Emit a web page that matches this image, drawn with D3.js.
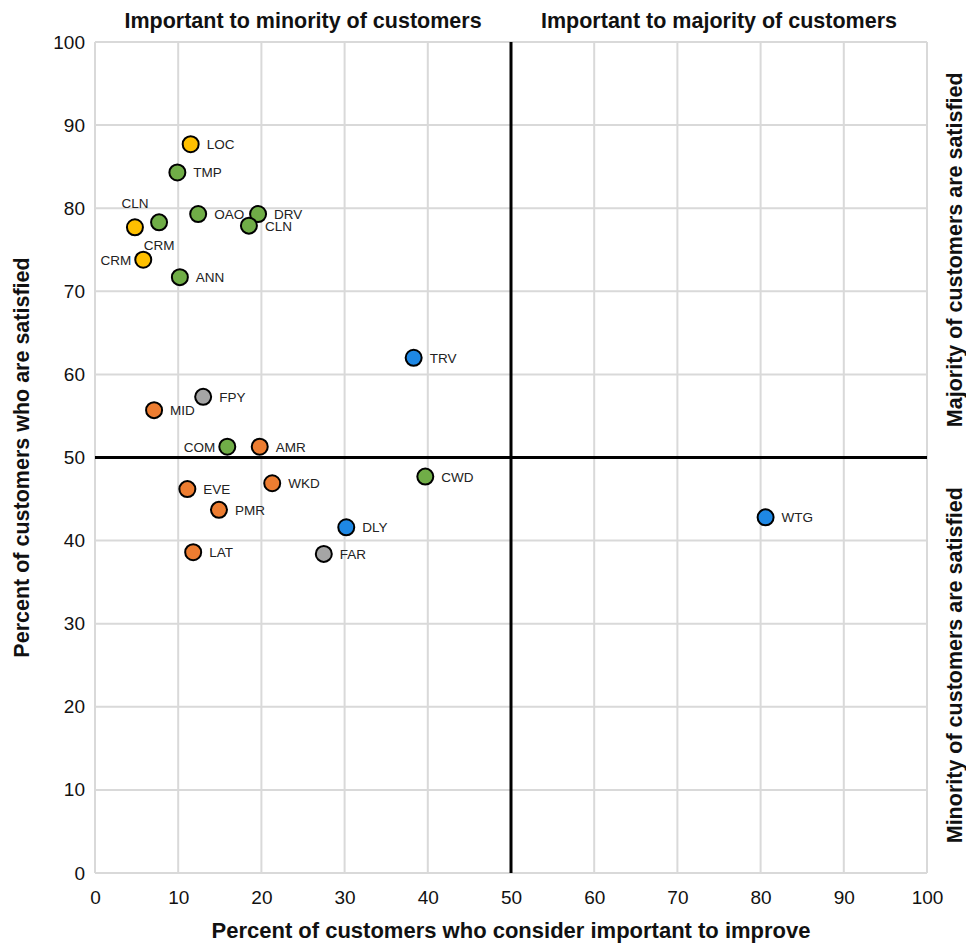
<!DOCTYPE html>
<html>
<head>
<meta charset="utf-8">
<script src="https://cdn.jsdelivr.net/npm/d3@7"></script>
<style>
  body { margin: 0; background: #fff; }
  .ax { font-family: "Liberation Sans", Arial, sans-serif; }
  .lbl { font-family: "Liberation Sans", Arial, sans-serif; font-size: 13.5px; fill: #222; }
</style>
</head>
<body>
<svg id="chart" width="966" height="943"></svg>
<script>
// Service attributes: share who consider it important to improve vs. share satisfied
const codes = ["LOC","TMP","CLN","CRM","OAO","DRV","CLN","CRM","ANN","TRV","FPY","MID","COM","AMR","CWD","WKD","EVE","PMR","DLY","LAT","FAR","WTG"];
const importance = [11.5, 9.9, 4.8, 7.7, 12.4, 19.6, 18.5, 5.8, 10.2, 38.3, 13.0, 7.1, 15.9, 19.8, 39.7, 21.3, 11.1, 14.9, 30.2, 11.8, 27.5, 80.6];
const satisfaction = [87.7, 84.3, 77.7, 78.3, 79.3, 79.3, 77.9, 73.8, 71.7, 62.0, 57.3, 55.7, 51.3, 51.3, 47.7, 46.9, 46.2, 43.7, 41.6, 38.6, 38.4, 42.8];
const groups = ["Y","G","Y","G","G","G","G","Y","G","B","S","O","G","O","G","O","O","O","B","O","S","B"];
const labelSide = ["right","right","above","below","right","right","right","left","right","right","right","right","left","right","right","right","right","right","right","right","right","right"];
const xTicks = [0,10,20,30,40,50,60,70,80,90,100];
const yTicks = [0,10,20,30,40,50,60,70,80,90,100];

const groupColor = { Y: "#FFC000", G: "#70AD47", O: "#ED7D31", B: "#1E88E5", S: "#A5A5A5" };

const points = codes.map((c, i) => ({ code: c, x: importance[i], y: satisfaction[i], g: groups[i], side: labelSide[i] }));

const svg = d3.select("#chart");
const plotL = 95, plotR = 927, plotT = 42, plotB = 873;
const x = d3.scaleLinear().domain([0, 100]).range([plotL, plotR]);
const y = d3.scaleLinear().domain([0, 100]).range([plotB, plotT]);

// gridlines
const grid = svg.append("g");
grid.selectAll("line.v").data(xTicks).join("line")
  .attr("x1", d => x(d)).attr("x2", d => x(d))
  .attr("y1", plotT).attr("y2", plotB)
  .attr("stroke", "#d9d9d9").attr("stroke-width", 2);
grid.selectAll("line.h").data(yTicks).join("line")
  .attr("x1", plotL).attr("x2", plotR)
  .attr("y1", d => y(d)).attr("y2", d => y(d))
  .attr("stroke", "#d9d9d9").attr("stroke-width", 2);

// axes (tick labels only)
const xAxis = svg.append("g").attr("transform", `translate(0,${plotB})`)
  .call(d3.axisBottom(x).tickValues(xTicks).tickSize(0).tickPadding(18));
const yAxis = svg.append("g").attr("transform", `translate(${plotL},0)`)
  .call(d3.axisLeft(y).tickValues(yTicks).tickSize(0).tickPadding(10));
[xAxis, yAxis].forEach(a => {
  a.select(".domain").remove();
  a.selectAll("text").attr("class", "ax").style("font-size", "19px").attr("fill", "#111");
});

// quadrant dividers
svg.append("line").attr("x1", x(50)).attr("x2", x(50)).attr("y1", plotT).attr("y2", plotB)
  .attr("stroke", "#000").attr("stroke-width", 3);
svg.append("line").attr("x1", plotL).attr("x2", plotR).attr("y1", y(50)).attr("y2", y(50))
  .attr("stroke", "#000").attr("stroke-width", 3);

// points
svg.append("g").selectAll("circle").data(points).join("circle")
  .attr("cx", d => x(d.x)).attr("cy", d => y(d.y)).attr("r", 8)
  .attr("fill", d => groupColor[d.g]).attr("stroke", "#000").attr("stroke-width", 2);

// point labels
svg.append("g").selectAll("text").data(points).join("text")
  .attr("class", "lbl")
  .attr("x", d => d.side === "left" ? x(d.x) - 12 : d.side === "right" ? x(d.x) + 16 : x(d.x))
  .attr("y", d => d.side === "above" ? y(d.y) - 19 : d.side === "below" ? y(d.y) + 28 : y(d.y) + 5)
  .attr("text-anchor", d => d.side === "left" ? "end" : d.side === "right" ? "start" : "middle")
  .text(d => d.code);

// titles
const title = (txt, tx, ty, rot, size) => svg.append("text")
  .attr("class", "ax")
  .attr("transform", `translate(${tx},${ty}) rotate(${rot})`)
  .attr("text-anchor", "middle")
  .style("font-size", size + "px").style("font-weight", "bold").attr("fill", "#111")
  .text(txt);
title("Important to minority of customers", x(25), 28, 0, 21.5);
title("Important to majority of customers", x(75), 28, 0, 21.5);
title("Percent of customers who consider important to improve", x(50), 938, 0, 22);
title("Percent of customers who are satisfied", 29, y(50), -90, 21.5);
title("Majority of customers are satisfied", 962, y(75), -90, 21.5);
title("Minority of customers are satisfied", 962, y(25), -90, 21.5);
</script>
</body>
</html>
